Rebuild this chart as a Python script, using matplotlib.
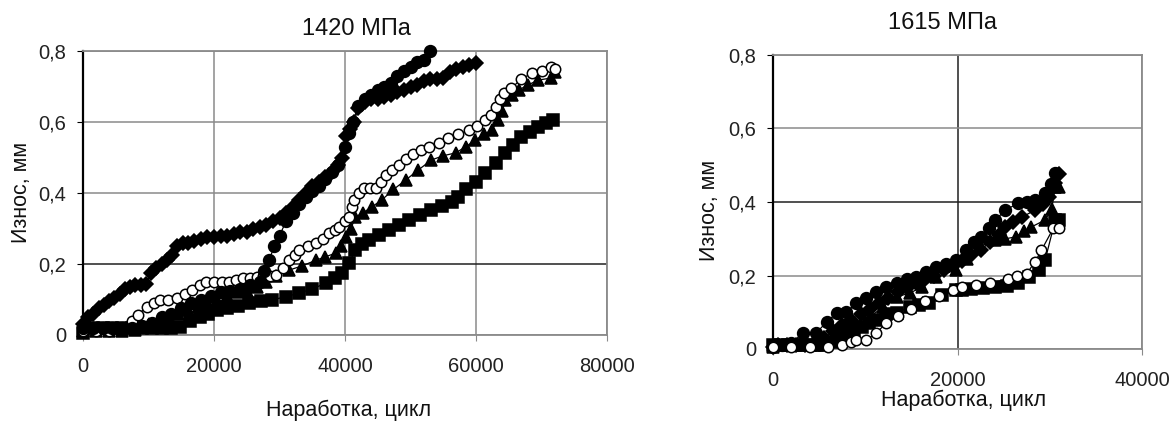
import matplotlib
matplotlib.use("Agg")
import matplotlib.pyplot as plt
from matplotlib.ticker import FuncFormatter, MultipleLocator

plt.rcParams['font.family'] = ['Liberation Sans', 'DejaVu Sans']

# ---------------- data: 1420 MPa ----------------
L_diam_x = [0, 800, 1600, 2400, 3200, 4000, 4800, 5600, 6400, 7200, 8000, 8800, 9600, 10400, 11200, 12000,
            12800, 13600, 14400, 15200, 16000, 17000, 18000, 19000, 20000, 21000, 22000, 23000, 24000, 25000,
            26000, 27000, 28000, 29000, 30000, 31000, 32000, 33000, 34000, 35000, 36000, 37000, 38000, 39000,
            39600, 40200, 40800, 41400, 42000, 43000, 44000, 45000, 46000, 47000, 48000, 49000, 50000, 51000,
            52000, 53000, 54000, 55000, 56000, 57000, 58000, 59000, 60000]
L_diam_y = [0.03, 0.05, 0.06, 0.075, 0.085, 0.095, 0.105, 0.115, 0.13, 0.135, 0.14, 0.14, 0.145, 0.175, 0.19, 0.2,
            0.21, 0.225, 0.25, 0.26, 0.26, 0.265, 0.27, 0.275, 0.275, 0.28, 0.28, 0.285, 0.29, 0.29,
            0.3, 0.305, 0.31, 0.32, 0.33, 0.345, 0.36, 0.38, 0.4, 0.42, 0.43, 0.445, 0.46, 0.48,
            0.5, 0.56, 0.58, 0.6, 0.64, 0.655, 0.665, 0.665, 0.67, 0.675, 0.685, 0.69, 0.7, 0.705,
            0.715, 0.72, 0.72, 0.725, 0.74, 0.75, 0.755, 0.76, 0.765]

L_fcirc_x = [0, 1500, 3000, 4500, 6000, 7500, 9000, 10500, 12000, 13500, 15000, 16500, 18000, 19500, 21000,
             22500, 24000, 25500, 27000, 27700, 28400, 29200, 30000, 31000, 32000, 33000, 34000, 35000, 36000,
             37000, 38000, 39000, 40000, 40600, 41200, 42000, 43000, 44000, 45000, 46000, 47000, 48000, 49000,
             50000, 51000, 52000, 53000]
L_fcirc_y = [0.02, 0.02, 0.02, 0.02, 0.02, 0.02, 0.025, 0.035, 0.05, 0.06, 0.075, 0.09, 0.1, 0.11, 0.12,
             0.125, 0.13, 0.14, 0.15, 0.18, 0.21, 0.25, 0.28, 0.32, 0.345, 0.37, 0.39, 0.405, 0.42,
             0.44, 0.46, 0.48, 0.53, 0.57, 0.6, 0.645, 0.665, 0.675, 0.69, 0.7, 0.71, 0.73, 0.745,
             0.755, 0.77, 0.775, 0.8]

L_ocirc_x = [0, 2000, 4000, 6000, 7500, 8400, 9700, 10800, 11700, 13000, 14300, 15500, 16700, 17800, 18800,
             20000, 21200, 22350, 23400, 24400, 25500, 26500, 27500, 28500, 29500, 30500, 31500, 32300, 33000,
             34300, 35600, 36600, 37600, 38400, 39100, 40000, 40600, 41000, 41400, 42100, 42900, 43800, 44700,
             45500, 46200, 47200, 48200, 49300, 50400, 51600, 52800, 54300, 55800, 57300, 58900, 60200, 61400,
             62300, 63000, 63600, 64200, 65400, 66900, 68500, 70000, 71500, 72000]
L_ocirc_y = [0.01, 0.01, 0.01, 0.02, 0.04, 0.056, 0.08, 0.09, 0.099, 0.1, 0.104, 0.115, 0.127, 0.14, 0.149,
             0.15, 0.15, 0.149, 0.155, 0.16, 0.16, 0.163, 0.165, 0.165, 0.17, 0.19, 0.211, 0.225, 0.239,
             0.25, 0.259, 0.27, 0.287, 0.295, 0.304, 0.32, 0.332, 0.36, 0.38, 0.4, 0.414, 0.414, 0.414,
             0.43, 0.45, 0.465, 0.479, 0.495, 0.51, 0.52, 0.53, 0.54, 0.555, 0.565, 0.577, 0.59, 0.606,
             0.62, 0.642, 0.665, 0.681, 0.696, 0.72, 0.738, 0.745, 0.755, 0.75]

L_tri_x = [0, 2000, 4000, 6000, 8000, 10000, 11500, 13000, 14500, 16000, 17500, 19000, 20500, 22000, 23500,
           25000, 26500, 28000, 29500, 31500, 33500, 35600, 37000, 38600, 39400, 40100, 40900, 41600, 42800,
           44100, 45600, 47400, 49300, 51200, 53200, 55000, 56900, 58400, 59900, 61200, 62400, 63400, 64000,
           64500, 65500, 66500, 68000, 69500, 71500, 72000]
L_tri_y = [0.01, 0.01, 0.01, 0.01, 0.015, 0.03, 0.04, 0.05, 0.06, 0.07, 0.08, 0.09, 0.1, 0.11, 0.12,
           0.125, 0.135, 0.15, 0.165, 0.183, 0.195, 0.211, 0.22, 0.231, 0.25, 0.276, 0.3, 0.332, 0.345,
           0.361, 0.38, 0.41, 0.437, 0.465, 0.493, 0.505, 0.513, 0.53, 0.549, 0.565, 0.577, 0.606, 0.63,
           0.662, 0.675, 0.69, 0.705, 0.718, 0.724, 0.74]

L_sq_x = [0, 1500, 3000, 4500, 6000, 7500, 9000, 10500, 12000, 13500, 14750, 16300, 17800, 19100, 20400,
          22000, 23700, 25400, 27100, 28900, 31000, 33000, 35000, 37100, 38500, 39600, 40600, 41600, 42600,
          43600, 45200, 46700, 48200, 49700, 51500, 53200, 54800, 56300, 57300, 58500, 60000, 61400, 63000,
          64500, 65700, 66900, 68200, 69500, 70700, 71800]
L_sq_y = [0.005, 0.02, 0.02, 0.02, 0.02, 0.02, 0.02, 0.02, 0.02, 0.02, 0.023, 0.04, 0.051, 0.06, 0.07,
          0.075, 0.083, 0.09, 0.095, 0.099, 0.108, 0.118, 0.13, 0.146, 0.16, 0.175, 0.203, 0.239, 0.255,
          0.268, 0.282, 0.296, 0.31, 0.324, 0.338, 0.352, 0.364, 0.375, 0.39, 0.41, 0.43, 0.456, 0.485,
          0.513, 0.535, 0.558, 0.572, 0.586, 0.596, 0.606]

# ---------------- data: 1615 MPa ----------------
R_diam_x = [0, 500, 1500, 2500, 3500, 4500, 5500, 6500, 7500, 8500, 9500, 10500, 11500, 12500, 13500, 14500,
            15500, 16500, 17500, 18500, 19500, 20500, 21500, 22500, 23500, 24500, 25200, 26000, 27000, 28400,
            29300, 29900, 30600, 31000]
R_diam_y = [0.005, 0.01, 0.01, 0.01, 0.01, 0.015, 0.03, 0.05, 0.065, 0.08, 0.095, 0.11, 0.125, 0.14, 0.155, 0.165,
            0.18, 0.19, 0.2, 0.215, 0.225, 0.24, 0.255, 0.27, 0.29, 0.31, 0.332, 0.345, 0.359, 0.378,
            0.395, 0.414, 0.452, 0.475]

R_fcirc_x = [0, 1000, 2000, 3230, 4700, 5800, 6900, 7950, 9050, 10100, 11200, 12300, 13400, 14500, 15500,
             16600, 17700, 18800, 19800, 20900, 21800, 22600, 23400, 24100, 25200, 26600, 27500, 28400, 29500,
             30100, 30600]
R_fcirc_y = [0.005, 0.01, 0.015, 0.044, 0.044, 0.073, 0.098, 0.1, 0.125, 0.139, 0.155, 0.168, 0.18, 0.19, 0.196,
             0.21, 0.223, 0.232, 0.242, 0.269, 0.29, 0.305, 0.33, 0.351, 0.378, 0.397, 0.4, 0.405, 0.424,
             0.45, 0.479]

R_tri_x = [0, 1500, 3000, 4500, 5500, 6900, 8600, 10500, 11900, 13400, 14800, 16200, 17700, 19800, 21000,
           22300, 24100, 25200, 26300, 27200, 28000, 29500, 30200, 30600, 31000]
R_tri_y = [0.005, 0.01, 0.01, 0.01, 0.02, 0.044, 0.071, 0.087, 0.114, 0.142, 0.152, 0.169, 0.196, 0.215, 0.245,
           0.278, 0.297, 0.3, 0.305, 0.32, 0.332, 0.351, 0.38, 0.441, 0.44]

R_sq_x = [0, 800, 1600, 2400, 3200, 4000, 4800, 5600, 6400, 7200, 8000, 8800, 9600, 10400, 11200, 12300,
          13400, 14800, 15800, 16900, 18300, 19800, 20500, 21500, 22800, 24100, 25400, 26600, 27700, 28800,
          29500, 30600, 31000]
R_sq_y = [0.01, 0.01, 0.01, 0.01, 0.01, 0.01, 0.01, 0.01, 0.02, 0.03, 0.04, 0.05, 0.06, 0.07, 0.08, 0.096,
          0.098, 0.114, 0.12, 0.125, 0.147, 0.16, 0.16, 0.163, 0.165, 0.169, 0.172, 0.179, 0.196, 0.215,
          0.242, 0.351, 0.35]

R_ocirc_x = [0, 2000, 4000, 6000, 7500, 8500, 9050, 10100, 11200, 12300, 13500, 15000, 16500, 18000, 19500,
             20500, 22000, 23500, 25500, 26500, 27500, 28400, 29100, 30400, 31000]
R_ocirc_y = [0.005, 0.005, 0.005, 0.005, 0.01, 0.02, 0.024, 0.024, 0.044, 0.071, 0.09, 0.11, 0.13, 0.145, 0.16,
             0.17, 0.175, 0.18, 0.19, 0.2, 0.205, 0.237, 0.269, 0.329, 0.33]

titles = ["1420 МПа", "1615 МПа"]
x_label = "Наработка, цикл"
y_label = "Износ, мм"

W, H = 1173, 421
fig = plt.figure(figsize=(W / 100, H / 100), dpi=100)
fig.patch.set_facecolor('white')


def yfmt(v, pos):
    if abs(v) < 1e-9:
        return "0"
    return f"{v:.1f}".replace(".", ",")


def make_axes(rect_px, xmax, xstep, series, dark_h, dark_v):
    l, t, r, b = rect_px
    ax = fig.add_axes([l / W, 1 - b / H, (r - l) / W, (b - t) / H])
    ax.set_xlim(0, xmax)
    ax.set_ylim(0, 0.8)
    ax.xaxis.set_major_locator(MultipleLocator(xstep))
    ax.yaxis.set_major_locator(MultipleLocator(0.2))
    ax.yaxis.set_major_formatter(FuncFormatter(yfmt))
    ax.grid(True, color='#8a8a8a', linewidth=1.1)
    ax.set_axisbelow(True)
    for gl, v in zip(ax.get_ygridlines(), ax.get_yticks()):
        if any(abs(v - d) < 1e-6 for d in dark_h):
            gl.set_color('#202020')
    for gl, v in zip(ax.get_xgridlines(), ax.get_xticks()):
        if any(abs(v - d) < 1e-6 for d in dark_v):
            gl.set_color('#202020')
    for s in ['top', 'right', 'bottom']:
        ax.spines[s].set_color('#8a8a8a')
        ax.spines[s].set_linewidth(1.3)
    ax.spines['left'].set_color('black')
    ax.spines['left'].set_linewidth(1.6)
    ax.tick_params(axis='both', direction='out', length=4, labelsize=14.5, colors='#222222')
    ax.tick_params(axis='x', pad=12, color='#8a8a8a')
    ax.tick_params(axis='y', pad=8, color='black')
    for xs, ys, mk, fc, ms in series:
        ax.plot(xs, ys, color='black', linewidth=0.9, marker=mk, markersize=ms,
                markerfacecolor=fc, markeredgecolor='black', markeredgewidth=1.1, clip_on=False, zorder=3)
    return ax


left_series = [
    (L_sq_x, L_sq_y, 's', 'black', 8),
    (L_tri_x, L_tri_y, '^', 'black', 9),
    (L_ocirc_x, L_ocirc_y, 'o', 'white', 7.5),
    (L_fcirc_x, L_fcirc_y, 'o', 'black', 8.5),
    (L_diam_x, L_diam_y, 'D', 'black', 7.5),
]
right_series = [
    (R_sq_x, R_sq_y, 's', 'black', 8),
    (R_tri_x, R_tri_y, '^', 'black', 9),
    (R_diam_x, R_diam_y, 'D', 'black', 7.5),
    (R_fcirc_x, R_fcirc_y, 'o', 'black', 8.5),
    (R_ocirc_x, R_ocirc_y, 'o', 'white', 7.5),
]

ax1 = make_axes((83, 51, 607, 335), 80000, 20000, left_series, dark_h=[0.2], dark_v=[])
ax2 = make_axes((773, 55, 1142, 349), 40000, 20000, right_series, dark_h=[0.4], dark_v=[20000])

fig.text(356 / W, 1 - 29 / H, titles[0], fontsize=17, ha='center', va='center', color='#111111')
fig.text(943 / W, 1 - 23 / H, titles[1], fontsize=17, ha='center', va='center', color='#111111')
fig.text(349 / W, 1 - 410 / H, x_label, fontsize=15.5, ha='center', va='center', color='#111111')
fig.text(964 / W, 1 - 400 / H, x_label, fontsize=15.5, ha='center', va='center', color='#111111')
fig.text(22 / W, 1 - 192 / H, y_label, fontsize=15.5, ha='center', va='center', rotation=90, color='#111111')
fig.text(710 / W, 1 - 210 / H, y_label, fontsize=15.5, ha='center', va='center', rotation=90, color='#111111')

fig.savefig("out.png", dpi=100, facecolor='white')
